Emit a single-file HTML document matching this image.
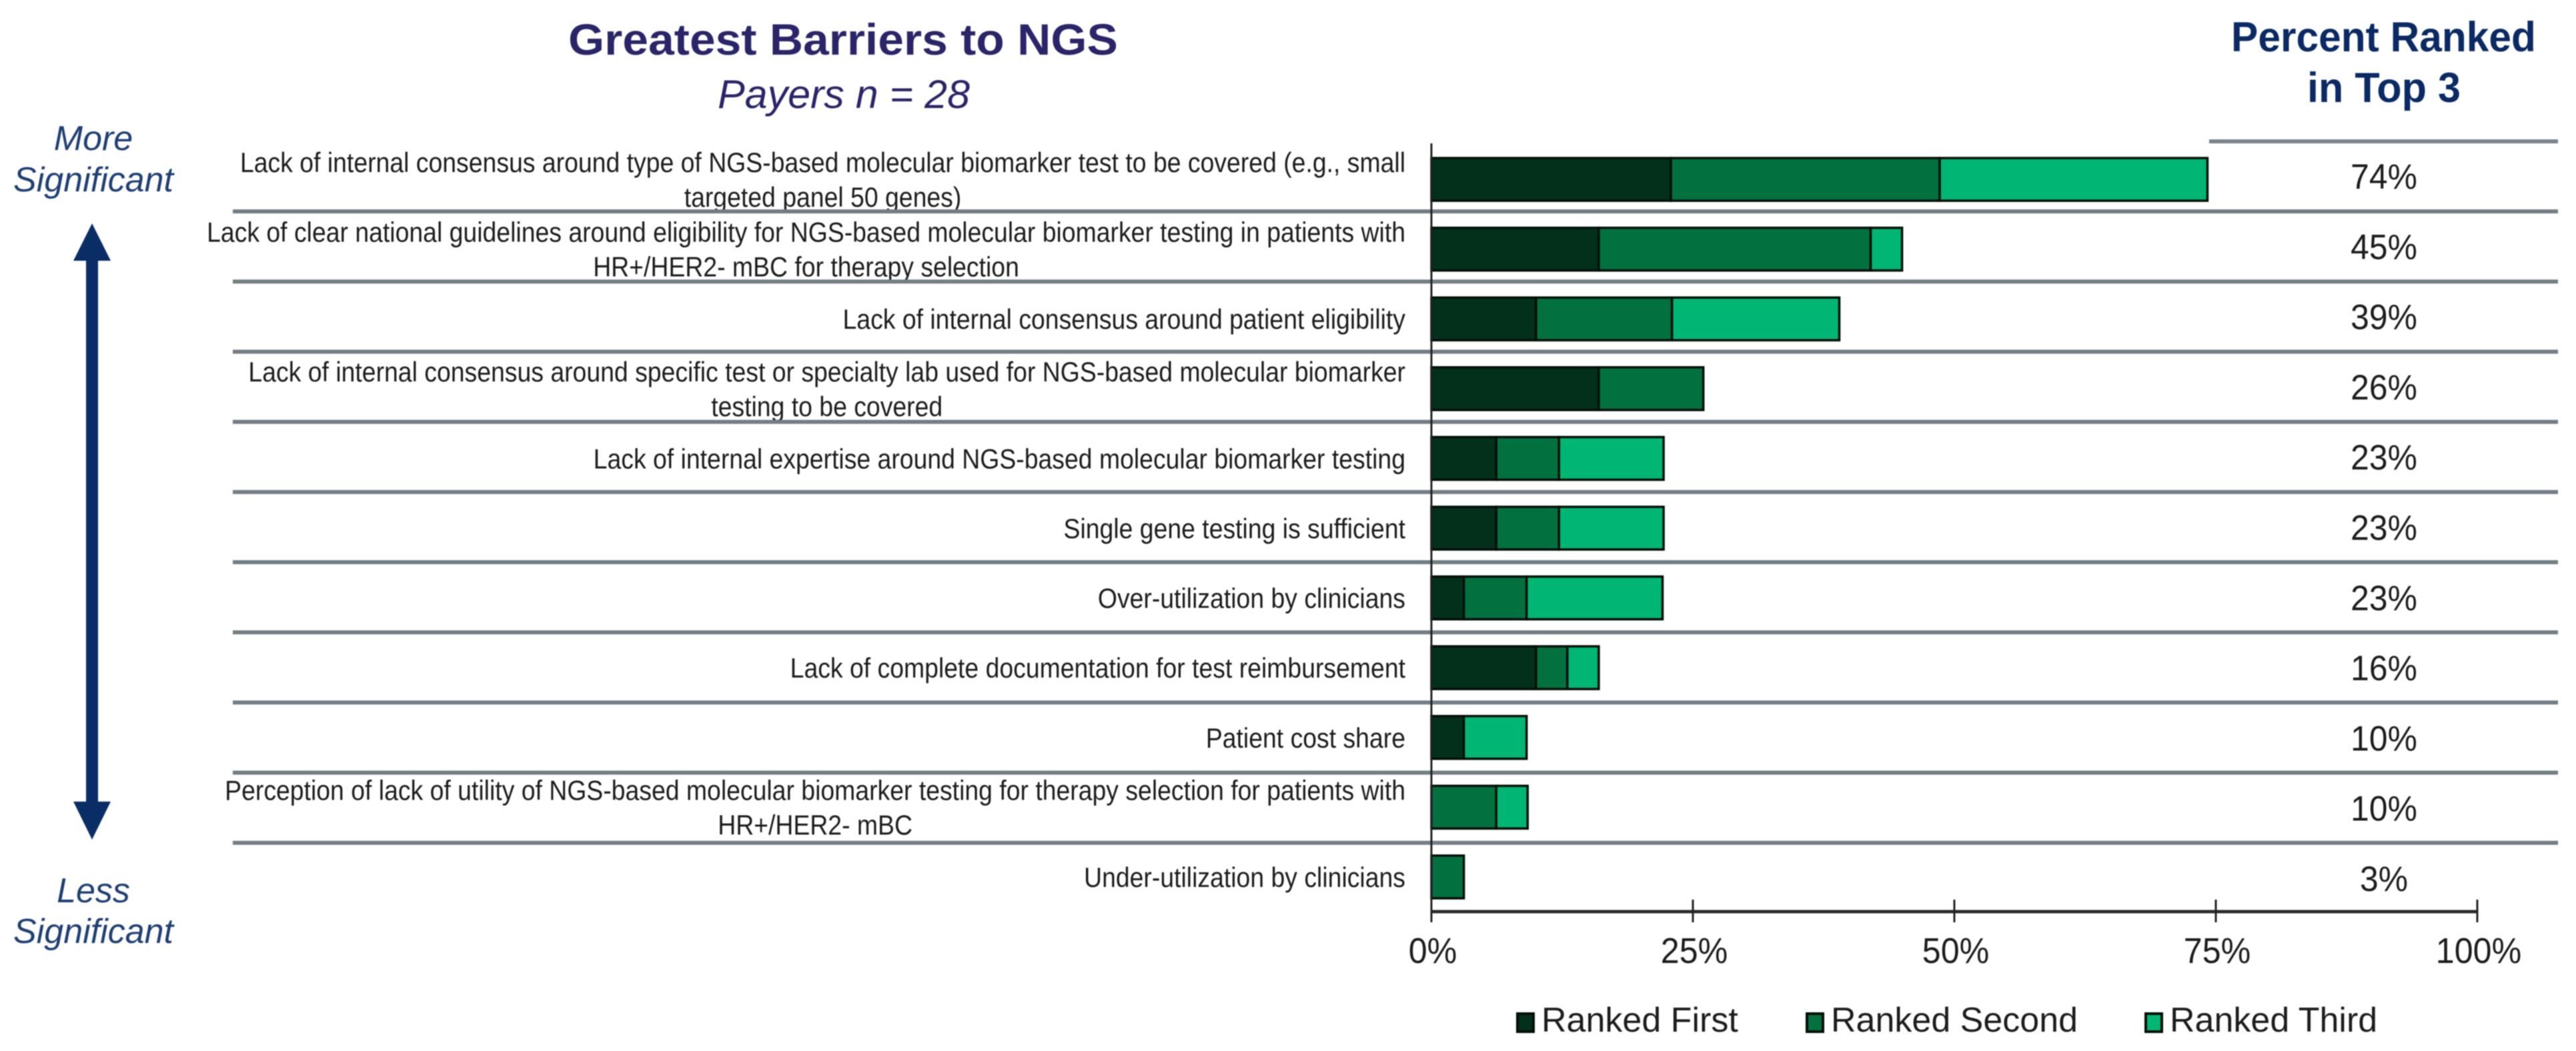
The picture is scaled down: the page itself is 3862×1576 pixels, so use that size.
<!DOCTYPE html>
<html>
<head>
<meta charset="utf-8">
<title>Greatest Barriers to NGS</title>
<style>
html,body{margin:0;padding:0;background:#fff;width:3862px;height:1576px;overflow:hidden}
svg{display:block;filter:blur(0.8px)}
text{font-family:"Liberation Sans",sans-serif}
</style>
</head>
<body>
<svg id="chart" xmlns="http://www.w3.org/2000/svg" width="3862" height="1576" viewBox="0 0 3862 1576">
  <rect x="0" y="0" width="3862" height="1576" fill="#fff"/>
  <text x="852" y="82" font-size="66" font-weight="bold" fill="#2a2568" textLength="824" lengthAdjust="spacingAndGlyphs">Greatest Barriers to NGS</text>
  <text x="1076" y="162" font-size="60" font-style="italic" fill="#2a2568" textLength="378" lengthAdjust="spacingAndGlyphs">Payers n = 28</text>
  <text x="3345" y="77" font-size="63" font-weight="bold" fill="#0b2a63" textLength="457" lengthAdjust="spacingAndGlyphs">Percent Ranked</text>
  <text x="3574" y="153" font-size="63" font-weight="bold" fill="#0b2a63" text-anchor="middle" textLength="230" lengthAdjust="spacingAndGlyphs">in Top 3</text>
  <text x="140" y="225" font-size="52" font-style="italic" fill="#1f3f73" text-anchor="middle">More</text>
  <text x="140" y="287" font-size="52" font-style="italic" fill="#1f3f73" text-anchor="middle">Significant</text>
  <text x="140" y="1353" font-size="52" font-style="italic" fill="#1f3f73" text-anchor="middle">Less</text>
  <text x="140" y="1414" font-size="52" font-style="italic" fill="#1f3f73" text-anchor="middle">Significant</text>
  <polygon fill="#0b2d66" points="138,335 166,391 147,391 147,1202 166,1202 138,1259 110,1202 129,1202 129,391 110,391"/>
  <rect x="3312" y="209" width="523" height="6" fill="#78848a"/>
  <g id="rows"></g>
  <g id="bars"></g>
  <g id="axis"></g>
  <g id="legend"></g>
</svg>
<script>
const categories = [
  ["Lack of internal consensus around type of NGS-based molecular biomarker test to be covered (e.g., small", "targeted panel 50 genes)"],
  ["Lack of clear national guidelines around eligibility for NGS-based molecular biomarker testing in patients with", "HR+/HER2- mBC for therapy selection"],
  ["Lack of internal consensus around patient eligibility"],
  ["Lack of internal consensus around specific test or specialty lab used for NGS-based molecular biomarker", "testing to be covered"],
  ["Lack of internal expertise around NGS-based molecular biomarker testing"],
  ["Single gene testing is sufficient"],
  ["Over-utilization by clinicians"],
  ["Lack of complete documentation for test reimbursement"],
  ["Patient cost share"],
  ["Perception of lack of utility of NGS-based molecular biomarker testing for therapy selection for patients with", "HR+/HER2- mBC"],
  ["Under-utilization by clinicians"]
];
const rankedFirst  = [22.9, 16, 10, 16, 6.2, 6.2, 3.1, 10, 3.1, 0, 0];
const rankedSecond = [25.7, 26, 13, 10, 6, 6, 6, 3, 0, 6.2, 3.1];
const rankedThird  = [25.6, 3, 16, 0, 10, 10, 13, 3, 6, 3, 0];
const percentLabels = ["74%", "45%", "39%", "26%", "23%", "23%", "23%", "16%", "10%", "10%", "3%"];
const tickValues = [0, 25, 50, 75, 100];
const seriesNames = ["Ranked First", "Ranked Second", "Ranked Third"];

const NS = "http://www.w3.org/2000/svg";
const X0 = 2146, PX_PER_PCT = 15.68;
const ROW0 = 269, ROW_STEP = 104.6, BAR_H = 64;
const RULE0 = 317, RULE_STEP = 105.2;
const PCT0 = 283, PCT_STEP = 105.3;
const LABEL_RIGHT = 2107, LABEL_SCALE = 0.89;
const COLORS = ["#03301a", "#03703f", "#01b574"];
const STROKE = "#010f08";
const xScale = v => X0 + v * PX_PER_PCT;
const yScale = i => ROW0 + i * ROW_STEP;
const make = (tag, attrs, parent) => {
  const el = document.createElementNS(NS, tag);
  for (const k in attrs) el.setAttribute(k, attrs[k]);
  parent.appendChild(el);
  return el;
};

const rowsG = document.getElementById("rows");
const barsG = document.getElementById("bars");
const axisG = document.getElementById("axis");
const legendG = document.getElementById("legend");
const allSeries = [rankedFirst, rankedSecond, rankedThird];

categories.forEach((lines, i) => {
  const cy = yScale(i);
  let blockCenter = LABEL_RIGHT;
  lines.forEach((line, j) => {
    const base = cy + 15 + (lines.length === 2 ? (j === 0 ? -26 : 26) : 0);
    const lineX = j === 0 ? LABEL_RIGHT : blockCenter;
    const anchor = j === 0 ? "end" : "middle";
    const t = make("text", {transform: "translate(" + lineX + "," + base + ") scale(" + LABEL_SCALE + ",1)", "text-anchor": anchor, "font-size": 42, fill: "#1c1c1c"}, rowsG);
    
    
    t.textContent = line;
    if (j === 0) blockCenter = LABEL_RIGHT - t.getComputedTextLength() * LABEL_SCALE / 2;
  });
  const p = make("text", {transform: "translate(3574," + (PCT0 + i * PCT_STEP) + ") scale(0.94,1)", "text-anchor": "middle", "font-size": 53, fill: "#1c1c1c"}, rowsG);
  
  
  p.textContent = percentLabels[i];
  if (i < categories.length - 1) {
    const r = make("rect", {x: 349, y: RULE0 + i * RULE_STEP - 3, width: 3486, height: 6, fill: "#727e84"}, rowsG);
    
    
  }
  let acc = 0;
  allSeries.forEach((s, k) => {
    const v = s[i];
    if (v > 0) {
      const b = make("rect", {x: xScale(acc), y: cy - BAR_H / 2, width: v * PX_PER_PCT, height: BAR_H, fill: COLORS[k], stroke: STROKE, "stroke-width": 3.5}, barsG);
      
      
    }
    acc += v;
  });
});

const axisLine = make("rect", {x: X0, y: 1364.5, width: 100 * PX_PER_PCT, height: 5, fill: "#2c2c2c"}, axisG);


const yAxisLine = make("rect", {x: X0 - 1.5, y: 215, width: 3, height: 1168, fill: "#222"}, axisG);


tickValues.forEach(v => {
  const x = xScale(v);
  const tk = make("rect", {x: x - 1.5, y: 1349, width: 3, height: 34, fill: "#222"}, axisG);
  
  
  const lb = make("text", {transform: "translate(" + (x + 2) + ",1444) scale(0.93,1)", "text-anchor": "middle", "font-size": 54, fill: "#1c1c1c"}, axisG);
  
  
  lb.textContent = v + "%";
});

const legendStart = [2273, 2707, 3215];
seriesNames.forEach((name, k) => {
  const sw = make("rect", {x: legendStart[k] + 2, y: 1520, width: 24, height: 27, fill: COLORS[k], stroke: STROKE, "stroke-width": 4}, legendG);
  
  
  const tx = make("text", {x: legendStart[k] + 38, y: 1547, "font-size": 52, fill: "#1c1c1c"}, legendG);
  
  
  tx.textContent = name;
});
</script>
</body>
</html>
